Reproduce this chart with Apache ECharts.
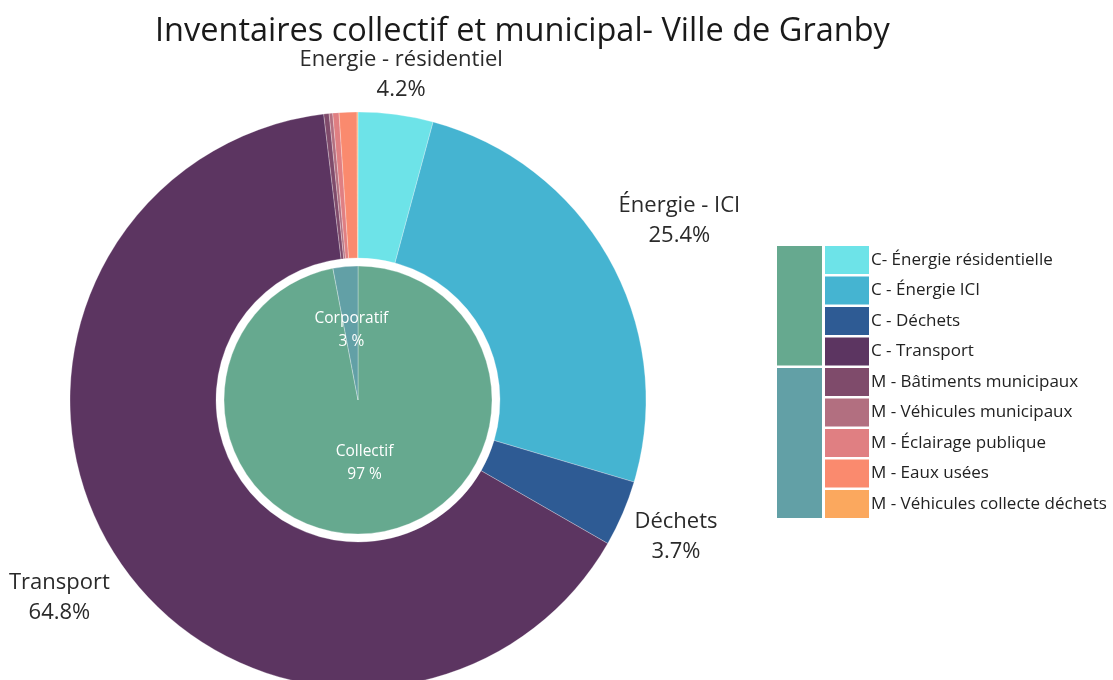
<!DOCTYPE html>
<html>
<head>
<meta charset="utf-8">
<script src="https://cdn.jsdelivr.net/npm/echarts@6/dist/echarts.min.js"></script>
<style>
  html, body { margin: 0; padding: 0; background: #fff; }
  #chart { width: 1113px; height: 680px; }
</style>
</head>
<body>
<div id="chart"></div>
<script>
// outer ring: emissions by sector (%)
var sectorNames = [
  'C- Énergie résidentielle', 'C - Énergie ICI', 'C - Déchets', 'C - Transport',
  'M - Bâtiments municipaux', 'M - Véhicules municipaux', 'M - Éclairage publique',
  'M - Eaux usées', 'M - Véhicules collecte déchets'
];
var sectorLabels = ['Energie - résidentiel', 'Énergie - ICI', 'Déchets', 'Transport', '', '', '', '', ''];
var sectorValues = [4.2, 25.4, 3.7, 64.8, 0.3, 0.2, 0.35, 1.0, 0.05];
var sectorColors = ['#6de3e8', '#45b4d1', '#2e5b94', '#5c3561', '#7f4b6b',
  '#b26f80', '#e07f82', '#fa8a6e', '#fba85e'];

// inner pie: collectif vs corporatif
var groupNames = ['Collectif', 'Corporatif'];
var groupValues = [97, 3];
var groupColors = ['#66a98f', '#62a0a6'];
var groupSizes = [4, 5]; // legend items per group

var cx = 358, cy = 400, outerR = 288;
// distance of each outer label centre beyond the ring
var labelGap = [40, 80, 58, 70];

var total = sectorValues.reduce(function(a, b) { return a + b; }, 0);

function midAngle(i) {
  var before = 0;
  for (var k = 0; k < i; ++k) before += sectorValues[k];
  return (before + sectorValues[i] / 2) / total * Math.PI * 2;
}

var font = '"Open Sans", "Noto Sans", sans-serif';
var legendTop = 246, legendStep = 30.5, legendGap = 2.5;

var graphics = [];
var row = 0;
for (var g = 0; g < groupSizes.length; ++g) {
  graphics.push({
    type: 'rect',
    left: 777,
    top: legendTop + row * legendStep,
    shape: { width: 45, height: groupSizes[g] * legendStep - legendGap },
    style: { fill: groupColors[g] }
  });
  row += groupSizes[g];
}

var chart = echarts.init(document.getElementById('chart'));
chart.setOption({
  animation: false,
  backgroundColor: '#fff',
  textStyle: { fontFamily: font },
  title: {
    text: 'Inventaires collectif et municipal- Ville de Granby',
    left: 150,
    top: 10,
    textStyle: { fontFamily: font, fontSize: 32.5, fontWeight: 'normal', color: '#1a1a1a' }
  },
  legend: {
    orient: 'vertical',
    left: 825,
    top: legendTop,
    padding: 0,
    itemWidth: 44,
    itemHeight: 28,
    itemGap: legendGap,
    icon: 'rect',
    data: sectorNames,
    itemStyle: { borderWidth: 0 },
    textStyle: { fontFamily: font, fontSize: 17, color: '#222', padding: [0, 0, 0, -3] }
  },
  graphic: graphics,
  series: [{
    type: 'pie',
    center: [cx, cy],
    radius: [142, outerR],
    startAngle: 90,
    clockwise: true,
    avoidLabelOverlap: false,
    itemStyle: { borderColor: 'rgba(255,255,255,0.45)', borderWidth: 0.6 },
    label: {
      show: true,
      position: 'outside',
      fontFamily: font,
      fontSize: 22,
      lineHeight: 30,
      color: '#2a2a2a',
      formatter: function(p) {
        var name = sectorLabels[p.dataIndex];
        return name ? name + '\n' + p.percent.toFixed(1) + '%' : '';
      }
    },
    labelLine: { show: false },
    labelLayout: function(p) {
      var i = p.dataIndex;
      if (labelGap[i] == null) return {};
      var a = midAngle(i), d = outerR + labelGap[i];
      return {
        x: cx + d * Math.sin(a),
        y: cy - d * Math.cos(a),
        align: 'center',
        verticalAlign: 'middle'
      };
    },
    emphasis: { disabled: true },
    data: sectorNames.map(function(n, i) {
      return { name: n, value: sectorValues[i], itemStyle: { color: sectorColors[i] } };
    })
  }, {
    type: 'pie',
    center: [cx, cy],
    radius: [0, 134],
    startAngle: 90,
    clockwise: true,
    itemStyle: { borderColor: 'rgba(255,255,255,0.5)', borderWidth: 0.6 },
    label: {
      show: true,
      position: 'inside',
      fontFamily: font,
      fontSize: 15.5,
      lineHeight: 23,
      color: '#fff',
      formatter: function(p) { return p.name + '\n' + p.value + ' %'; }
    },
    labelLayout: function(p) {
      return { dy: p.dataIndex === 0 ? -7 : 0 };
    },
    emphasis: { disabled: true },
    data: groupNames.map(function(n, i) {
      return { name: n, value: groupValues[i], itemStyle: { color: groupColors[i] } };
    })
  }]
});
</script>
</body>
</html>
